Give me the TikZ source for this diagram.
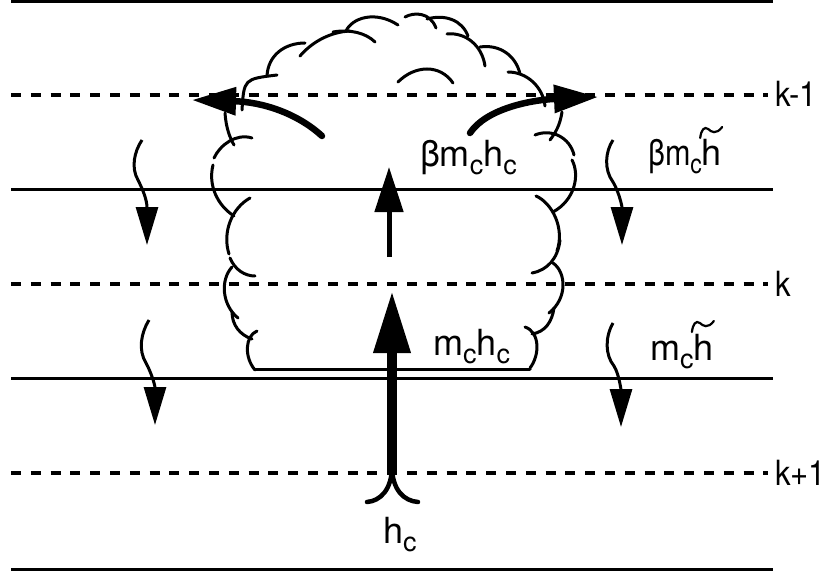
\documentclass[tikz,border=0pt]{standalone}
\usepackage{fontspec}
\setmainfont{TeX Gyre Heros}
\usetikzlibrary{arrows.meta}
% lowered subscript letter
\newcommand\dn[1]{\raisebox{-8pt}{\fontsize{27}{27}\selectfont #1}}
\begin{document}
\begin{tikzpicture}[x=1pt,y=-1pt,
  layer/.style={line width=3pt},
  halflayer/.style={line width=3.4pt,dash pattern=on 9.9pt off 9.9pt},
  puff/.style={line width=3pt,line cap=round},
  flux/.style={line width=3pt,-{Triangle[length=38pt,width=22pt]}},
  detrain/.style={line width=6.5pt,line cap=round,-{Triangle[length=44pt,width=27pt]}},
  lbl/.style={anchor=base west,inner sep=0pt,font=\fontsize{36}{36}\selectfont},
  lev/.style={anchor=base west,inner sep=0pt,font=\fontsize{31}{31}\selectfont},
  tildemark/.pic={\draw[line width=2.2pt,line cap=round]
     (-22,-28) .. controls (-21,-36) and (-18,-40) .. (-14,-37)
     .. controls (-11,-34) and (-6,-31) .. (0,-39);}]
\useasboundingbox (0,0) rectangle (830,575);

% model levels: full levels solid, half levels dashed
\foreach \n/\yy in {a/2,b/189,c/378,d/569}{
  \coordinate (F\n w) at (11,\yy);
  \coordinate (F\n e) at (773,\yy);
  \draw[layer] (F\n w) -- (F\n e);
}
\foreach \n/\yy in {a/95,b/284,c/473}{
  \coordinate (H\n w) at (11,\yy);
  \coordinate (H\n e) at (768,\yy);
  \draw[halflayer] (H\n w) -- (H\n e);
}
\node[lev] (kup) at (775,107) {\scalebox{1}[1.12]{k-1}};
\node[lev] (kmid) at (775,296) {\scalebox{1}[1.12]{k}};
\node[lev] (kdn) at (775,485) {\scalebox{1}[1.12]{k+1}};

% cloud outline: loose scalloped arcs
\begin{scope}[puff]
  % top
  \draw (242,110) .. controls (244,79) .. (277,75);
  \draw (267,76) .. controls (268,55) and (285,43) .. (305,43);
  \draw (300,56) .. controls (312,42) and (330,32) .. (350,31);
  \draw (333,32) .. controls (350,29) and (366,33) .. (375,42);
  \draw (346,31) .. controls (352,18) and (375,10) .. (398,25);
  \draw (405,17) .. controls (414,12) and (430,12) .. (436,28);
  \draw (427,19) .. controls (445,14) and (462,20) .. (468,36);
  \draw (447,34) .. controls (465,32) and (482,45) .. (485,66);
  \draw (480,47) .. controls (500,44) and (516,56) .. (520,74);
  \draw (508,72) .. controls (527,72) and (543,87) .. (545,106);
  \draw (398,82) .. controls (415,65) and (440,64) .. (453,83);
  % right flank
  \draw (562,112) .. controls (560,125) and (556,132) .. (550,140);
  \draw (535,135) .. controls (552,128) and (570,138) .. (574,155);
  \draw (572,160) .. controls (580,175) and (575,200) .. (553,212);
  \draw (536,196) .. controls (552,203) and (565,228) .. (557,251);
  \draw (560,240) .. controls (558,258) and (548,270) .. (532,273);
  \draw (553,263) .. controls (566,272) and (568,298) .. (549,313);
  \draw (554,308) .. controls (552,322) and (545,332) .. (532,334);
  \draw (525,327) .. controls (540,332) and (540,355) .. (530,368);
  % left flank
  \draw (225,113) .. controls (226,128) and (230,138) .. (234,145);
  \draw (252,138) .. controls (236,133) and (220,145) .. (214,158);
  \draw (213,165) .. controls (208,185) and (217,205) .. (234,216);
  \draw (250,198) .. controls (232,208) and (222,232) .. (229,254);
  \draw (230,258) .. controls (235,270) and (245,276) .. (255,276);
  \draw (232,267) .. controls (220,280) and (222,305) .. (238,318);
  \draw (232,312) .. controls (232,325) and (240,335) .. (252,339);
  \draw (257,331) .. controls (245,336) and (244,357) .. (255,370);
  % cloud base
  \coordinate (baseL) at (255,369);
  \coordinate (baseR) at (530,369);
  \draw (baseL) -- (baseR);
\end{scope}

% updraft entering the cloud base
\coordinate (root) at (392,473);
\coordinate (rootL) at (367,502);
\coordinate (rootR) at (418,502);
\coordinate (upTip) at (392,291);
\draw[line width=4.5pt,line cap=round] (392,466) .. controls (392,490) and (380,501) .. (rootL);
\draw[line width=4.5pt,line cap=round] (392,466) .. controls (392,490) and (404,501) .. (rootR);
\draw[line width=10pt,-{Triangle[length=62pt,width=35pt]}] (root) -- (upTip);

% reduced updraft above level k
\coordinate (up2a) at (389,257);
\coordinate (up2b) at (389,167);
\draw[line width=5pt,-{Triangle[length=45pt,width=28pt]}] (up2a) -- (up2b);

% detrainment at cloud top
\coordinate (detLa) at (322,136);
\coordinate (detLb) at (192,100);
\coordinate (detRa) at (470,133);
\coordinate (detRb) at (598,97);
\draw[detrain] (detLa) .. controls (297,113) and (262,102) .. (detLb);
\draw[detrain] (detRa) .. controls (486,109) and (530,100) .. (detRb);

% compensating subsidence in the environment
\draw[flux] (142,140) .. controls (134,152) and (131,168) .. (138,180)
            .. controls (143,190) and (147,200) .. (147,245);
\draw[flux] (149,320) .. controls (141,333) and (138,350) .. (146,363)
            .. controls (151,372) and (155,385) .. (155,425);
\draw[flux] (613,140) .. controls (605,152) and (604,170) .. (613,182)
            .. controls (618,190) and (622,205) .. (622,245);
\draw[flux] (613,323) .. controls (605,337) and (605,355) .. (614,366)
            .. controls (619,374) and (621,390) .. (621,427);

% flux labels
\node[lbl] (bmh) at (420,167) {βm\dn{c}h\dn{c}};
\node[lbl] (mh) at (433,355) {m\dn{c}h\dn{c}};
\node[lbl] (bmt) at (648,166) {\scalebox{0.85}[1]{βm\dn{c}}h};
\node[lbl] (mt) at (650,360) {m\dn{c}h};
\node[lbl] (hc) at (383,543) {h\dn{c}};
\pic at (bmt.base east) {tildemark};
\pic at (mt.base east) {tildemark};
\end{tikzpicture}
\end{document}
